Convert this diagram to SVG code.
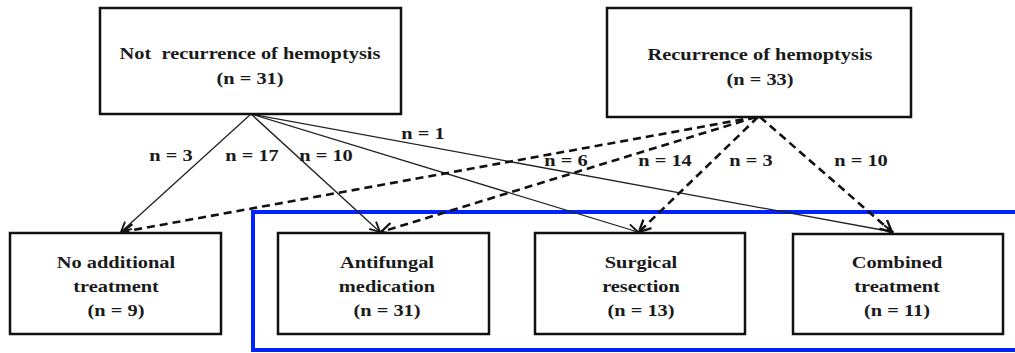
<svg xmlns="http://www.w3.org/2000/svg" width="1015" height="353" viewBox="0 0 1015 353">
<style>
.box{fill:#fff;stroke:#111;stroke-width:2.5}
.t{font-family:"Liberation Serif","Times New Roman",serif;font-weight:bold;font-size:17px;fill:#1a1a1a;text-anchor:middle}
.s{fill:none;stroke:#222;stroke-width:1.3}
.d{fill:none;stroke:#111;stroke-width:2.6;stroke-dasharray:8 5}
.hl{fill:none;stroke:#0022ff;stroke-width:4}
</style>
<defs>
<marker id="a" viewBox="0 0 12 12" refX="11" refY="6" markerWidth="12" markerHeight="12" markerUnits="userSpaceOnUse" orient="auto">
<path d="M1,1 L11,6 L1,11" fill="none" stroke="#111" stroke-width="1.8"/>
</marker>
<marker id="b" viewBox="0 0 12 12" refX="11" refY="6" markerWidth="14" markerHeight="14" markerUnits="userSpaceOnUse" orient="auto">
<path d="M1,1 L11,6 L1,11" fill="none" stroke="#111" stroke-width="2"/>
</marker>
</defs>
<rect width="1015" height="353" fill="#fff"/>
<rect class="hl" x="253" y="212" width="780" height="138"/>
<g id="connectors">
<line class="s" x1="251" y1="114" x2="121" y2="232" marker-end="url(#a)"/>
<line class="s" x1="251" y1="114" x2="380" y2="232" marker-end="url(#a)"/>
<line class="s" x1="251" y1="114" x2="638" y2="232" marker-end="url(#a)"/>
<line class="s" x1="251" y1="114" x2="893" y2="232" marker-end="url(#a)"/>
<line class="d" x1="756" y1="117" x2="122" y2="232" marker-end="url(#b)"/>
<line class="d" x1="756" y1="117" x2="381" y2="232" marker-end="url(#b)"/>
<line class="d" x1="758" y1="117" x2="639" y2="232" marker-end="url(#b)"/>
<line class="d" x1="760" y1="117" x2="892" y2="232" marker-end="url(#b)"/>
<text class="t" transform="translate(171 161) scale(1.2 1)">n = 3</text>
<text class="t" transform="translate(252 161) scale(1.2 1)">n = 17</text>
<text class="t" transform="translate(326 161) scale(1.2 1)">n = 10</text>
<text class="t" transform="translate(423 139) scale(1.2 1)">n = 1</text>
<text class="t" transform="translate(566 166) scale(1.2 1)">n = 6</text>
<text class="t" transform="translate(665 166) scale(1.2 1)">n = 14</text>
<text class="t" transform="translate(751 166) scale(1.2 1)">n = 3</text>
<text class="t" transform="translate(861 166) scale(1.2 1)">n = 10</text>
</g>
<g id="n1">
<rect class="box" x="100" y="8" width="301" height="106"/>
<text class="t" style="white-space:pre" transform="translate(250 59) scale(1.2 1)">Not  recurrence of hemoptysis</text>
<text class="t" transform="translate(250 84) scale(1.2 1)">(n = 31)</text>
</g>
<g id="n2">
<rect class="box" x="607" y="8" width="304" height="109"/>
<text class="t" transform="translate(760 60) scale(1.2 1)">Recurrence of hemoptysis</text>
<text class="t" transform="translate(760 85) scale(1.2 1)">(n = 33)</text>
</g>
<g id="n3">
<rect class="box" x="10" y="233" width="211" height="101"/>
<text class="t" transform="translate(116 268) scale(1.2 1)">No additional</text>
<text class="t" transform="translate(116 292) scale(1.2 1)">treatment</text>
<text class="t" transform="translate(116 316) scale(1.2 1)">(n = 9)</text>
</g>
<g id="n4">
<rect class="box" x="278" y="233" width="211" height="101"/>
<text class="t" transform="translate(387 268) scale(1.2 1)">Antifungal</text>
<text class="t" transform="translate(387 292) scale(1.2 1)">medication</text>
<text class="t" transform="translate(387 316) scale(1.2 1)">(n = 31)</text>
</g>
<g id="n5">
<rect class="box" x="535" y="233" width="210" height="101"/>
<text class="t" transform="translate(641 268) scale(1.2 1)">Surgical</text>
<text class="t" transform="translate(641 292) scale(1.2 1)">resection</text>
<text class="t" transform="translate(641 316) scale(1.2 1)">(n = 13)</text>
</g>
<g id="n6">
<rect class="box" x="793" y="234" width="210" height="100"/>
<text class="t" transform="translate(897 268) scale(1.2 1)">Combined</text>
<text class="t" transform="translate(897 292) scale(1.2 1)">treatment</text>
<text class="t" transform="translate(897 316) scale(1.2 1)">(n = 11)</text>
</g>
</svg>
